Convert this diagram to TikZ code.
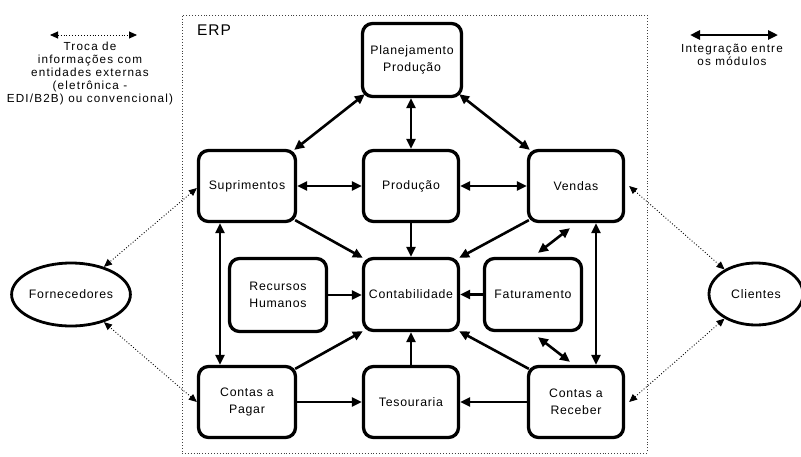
\documentclass[tikz,border=0pt]{standalone}
\usepackage{fontspec}
\setmainfont{Liberation Sans}
\newfontfamily\boxfont[LetterSpace=6]{Liberation Sans}
\newfontfamily\legfont[LetterSpace=10]{Liberation Sans}
\usetikzlibrary{arrows.meta,shapes.geometric}
\begin{document}
\begin{tikzpicture}[x=1pt,y=-1pt,
  module/.style={draw, line width=3.3pt, rounded corners=10pt, align=center,
    font=\boxfont\fontsize{12.3}{16.5}\selectfont, inner sep=0pt},
  extnode/.style={draw, ellipse, line width=2.8pt, inner sep=0pt,
    font=\boxfont\fontsize{12.3}{16.5}\selectfont},
  link/.style={line width=2.6pt, {Triangle[length=10pt,width=9pt]}-{Triangle[length=10pt,width=9pt]}},
  onelink/.style={line width=2.6pt, -{Triangle[length=10pt,width=9pt]}},
  dotlink/.style={line width=0.9pt, dotted, {Triangle[length=8pt,width=7pt]}-{Triangle[length=8pt,width=7pt]}},
  legtext/.style={align=center, font=\legfont\fontsize{11.7}{13}\selectfont, inner sep=0pt}
]
\useasboundingbox (0,0) rectangle (801,456);

% ERP frame
\node[draw=black!75, dotted, line width=0.9pt, minimum width=465pt, minimum height=438pt, inner sep=0pt] (erp) at (414.5,234) {};
\node[anchor=west, font=\boxfont\fontsize{15.5}{18}\selectfont, inner sep=0pt] (erplabel) at (197,30) {ERP};

% modules
\node[module, minimum width=99pt, minimum height=73pt] (plan) at (412,60) {Planejamento\\Produção};
\node[module, minimum width=97pt, minimum height=71pt] (sup) at (247,186) {Suprimentos};
\node[module, minimum width=95pt, minimum height=71pt] (prod) at (411,186) {Produção};
\node[module, minimum width=95pt, minimum height=71pt] (vend) at (576,186) {Vendas};
\node[module, minimum width=97pt, minimum height=73pt] (rh) at (278,295) {Recursos\\Humanos};
\node[module, minimum width=95pt, minimum height=72pt] (cont) at (411,294.5) {Contabilidade};
\node[module, minimum width=97pt, minimum height=72pt] (fat) at (533,294.5) {Faturamento};
\node[module, minimum width=97pt, minimum height=71pt] (cp) at (247,402) {Contas a\\Pagar};
\node[module, minimum width=95pt, minimum height=71pt] (tes) at (411,402) {Tesouraria};
\node[module, minimum width=95pt, minimum height=71pt] (cr) at (576,402) {Contas a\\Receber};

% external entities
\node[extnode, minimum width=96pt, minimum height=63pt] (forn) at (71,294.5) {Fornecedores};
\node[extnode, minimum width=94pt, minimum height=62pt] (cli) at (756,294) {Clientes};

% integration links
\draw[link] ([xshift=4pt,yshift=4pt]plan.south west) -- ([xshift=-3pt,yshift=-1pt]sup.north east);
\draw[link] (prod.north |- plan.south) -- (prod.north);
\draw[link] ([xshift=-4pt,yshift=4pt]plan.south east) -- ([xshift=3pt,yshift=-1pt]vend.north west);
\draw[link] (sup.east) -- (prod.west);
\draw[link] (prod.east) -- (vend.west);
\draw[onelink] ([xshift=-2pt,yshift=3pt]sup.south east) -- ([xshift=1pt,yshift=-1pt]cont.north west);
\draw[onelink] (prod.south) -- (cont.north);
\draw[onelink] ([xshift=2pt,yshift=3pt]vend.south west) -- ([xshift=-1pt,yshift=-1pt]cont.north east);
\draw[onelink] (rh.east) -- (rh.east -| cont.west);
\draw[onelink] (fat.west) -- (fat.west -| cont.east);
\draw[link] ([xshift=5pt,yshift=4pt]fat.north) -- ([xshift=-6pt,yshift=-5pt]vend.south);
\draw[link] ([xshift=5pt,yshift=-5pt]fat.south) -- ([xshift=-6pt,yshift=3pt]cr.north);
\draw[link] ([xshift=-27pt]sup.south) -- ([xshift=-27pt]cp.north);
\draw[link] ([xshift=20pt]vend.south) -- ([xshift=20pt]cr.north);
\draw[onelink] ([xshift=-2pt,yshift=-4pt]cp.north east) -- ([xshift=1pt,yshift=1pt]cont.south west);
\draw[onelink] (tes.north) -- (cont.south);
\draw[onelink] ([xshift=2pt,yshift=-4pt]cr.north west) -- ([xshift=-1pt,yshift=1pt]cont.south east);
\draw[onelink] (cp.east) -- (tes.west);
\draw[onelink] (cr.west) -- (tes.east);

% external links
\draw[dotlink] ([yshift=-2pt]sup.west) -- (forn.40);
\draw[dotlink] (cp.west) -- (forn.-40);
\draw[dotlink] ([xshift=4pt]vend.east) -- (cli.142);
\draw[dotlink] ([xshift=4pt]cr.east) -- (cli.-142);

% legend
\coordinate (la1) at (50,35);
\coordinate (la2) at (137,35);
\draw[dotlink] (la1) -- (la2);
\node[legtext, anchor=north] (legl) at (90,42) {Troca de\\informações com\\entidades externas\\(eletrônica -\\EDI/B2B) ou convencional)};
\coordinate (lb1) at (690,35);
\coordinate (lb2) at (778,35);
\draw[link] (lb1) -- (lb2);
\node[legtext, anchor=north] (legr) at (732,44) {Integração entre\\os módulos};
\end{tikzpicture}
\end{document}
